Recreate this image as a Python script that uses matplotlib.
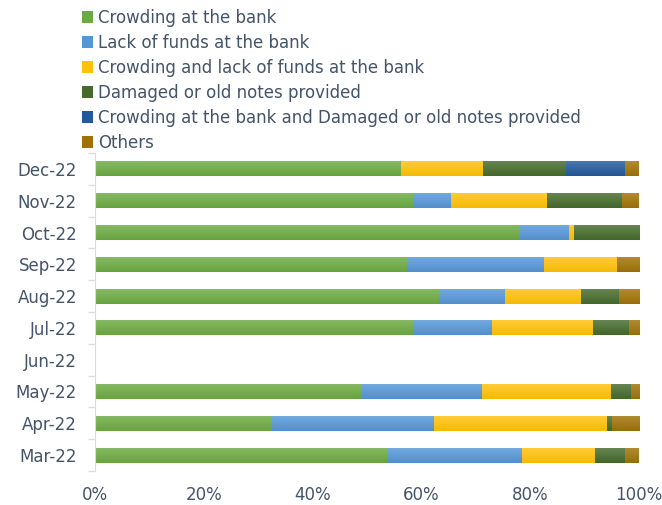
import matplotlib
matplotlib.use("Agg")
import matplotlib.pyplot as plt
import numpy as np
from matplotlib.colors import to_rgb
from matplotlib.patches import Patch

months = ["Mar-22", "Apr-22", "May-22", "Jun-22", "Jul-22", "Aug-22",
          "Sep-22", "Oct-22", "Nov-22", "Dec-22"]

crowding      = [53.6, 32.5, 49.1, 0, 58.5, 63.2, 57.4, 78.1, 58.5, 56.2]
lack_funds    = [24.9, 29.8, 22.1, 0, 14.4, 12.1, 25.1,  9.0,  6.9,  0.0]
crowd_lack    = [13.4, 31.8, 23.6, 0, 18.6, 14.0, 13.4,  0.9, 17.7, 15.2]
damaged       = [ 5.6,  0.9,  3.7, 0,  6.6,  7.0,  0.0, 12.0, 13.8, 15.2]
crowd_damaged = [ 0.0,  0.0,  0.0, 0,  0.0,  0.0,  0.0,  0.0,  0.0, 10.9]
others        = [ 2.5,  5.0,  1.5, 0,  1.9,  3.7,  4.1,  0.0,  3.1,  2.5]

series_names = ["Crowding at the bank", "Lack of funds at the bank",
                "Crowding and lack of funds at the bank", "Damaged or old notes provided",
                "Crowding at the bank and Damaged or old notes provided", "Others"]
series = [crowding, lack_funds, crowd_lack, damaged, crowd_damaged, others]
colors = ["#6BAA41", "#5496D6", "#FFC107", "#456A2C", "#22599A", "#9E7206"]
xticks = [0, 20, 40, 60, 80, 100]
xticklabels = ["0%", "20%", "40%", "60%", "80%", "100%"]

TEXT = "#44546A"
plt.rcParams['font.family'] = ['DejaVu Sans']

fig = plt.figure(figsize=(6.62, 5.05), dpi=100)
ax = fig.add_axes([95/662, 34/505, 544/662, 318/505])

y = np.arange(len(months))
left = np.zeros(len(months))
for vals, col, name in zip(series, colors, series_names):
    vals = np.array(vals, dtype=float)
    bars = ax.barh(y, vals, left=left, height=0.47, color=col, label=name, zorder=2)
    base = np.array(to_rgb(col))
    top = base + (1 - base) * 0.18
    bot = base * 0.96
    grad = np.linspace(0, 1, 32)[:, None, None]
    img = top * (1 - grad) + bot * grad
    for b in bars:
        if b.get_width() <= 0:
            continue
        x0, y0 = b.get_x(), b.get_y()
        w, h = b.get_width(), b.get_height()
        im = ax.imshow(img, extent=[x0, x0 + w, y0, y0 + h], aspect='auto',
                       origin='upper', zorder=2.1, interpolation='bilinear')
        im.set_clip_path(b)
        b.set_facecolor('none')
    left += vals

ax.set_xlim(0, 100)
ax.set_ylim(-0.5, len(months) - 0.5)
ax.set_xticks(xticks)
ax.set_xticklabels(xticklabels, fontsize=12, color=TEXT)
ax.set_yticks(y)
ax.set_yticklabels(months, fontsize=12, color=TEXT)
ax.set_yticks(np.arange(-0.5, len(months)), minor=True)
ax.tick_params(axis='y', which='major', length=0, pad=13)
ax.tick_params(axis='y', which='minor', length=5, color='#D9DDE3', width=1)
ax.tick_params(axis='x', length=0, pad=11)
for s in ['top', 'right', 'bottom']:
    ax.spines[s].set_visible(False)
ax.spines['left'].set_color('#D9DDE3')
ax.set_facecolor('none')

handles = [Patch(facecolor=c, edgecolor='none') for c in colors]
leg = fig.legend(handles, series_names, loc='upper left', bbox_to_anchor=(75/662, 1 - 2/505),
                 frameon=False, fontsize=12, labelcolor=TEXT, handlelength=0.7,
                 handleheight=0.7, handletextpad=0.3, labelspacing=0.42, borderaxespad=0)

fig.savefig("out.png", dpi=100)
